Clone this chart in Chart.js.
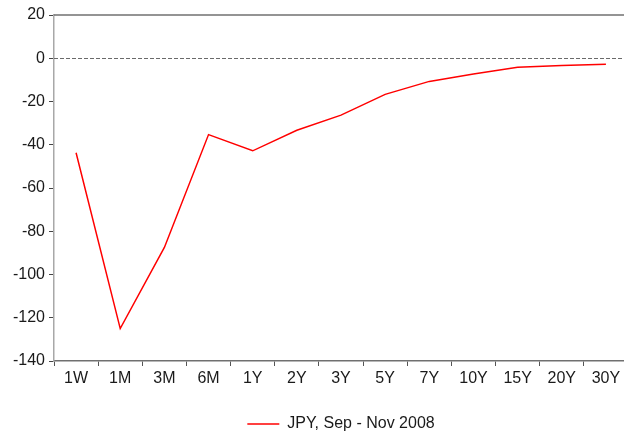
<!DOCTYPE html>
<html>
<head>
<meta charset="utf-8">
<script src="https://cdn.jsdelivr.net/npm/chart.js@4.4.1/dist/chart.umd.min.js"></script>
<style>
  html, body { margin: 0; padding: 0; background: #fff; overflow: hidden; }
  /* the original plot runs a few pixels past the right and bottom edges */
  #wrap { width: 630px; height: 442px; }
</style>
</head>
<body>
<div id="wrap"><canvas id="curve"></canvas></div>
<script>
const tenors = ['1W', '1M', '3M', '6M', '1Y', '2Y', '3Y', '5Y', '7Y', '10Y', '15Y', '20Y', '30Y'];
const jpyChange = [-43.7, -125, -87.5, -35.3, -42.8, -33.3, -26.3, -16.7, -10.7, -7.3, -4.2, -3.4, -2.8];
const yMin = -140;
const yMax = 20;
const yStep = 20;

const fontFamily = '"Liberation Sans", Arial, sans-serif';

// top frame + dashed zero line
const framePlugin = {
    id: 'frame',
    beforeDatasetsDraw(chart) {
        const { ctx, chartArea, scales } = chart;
        const y0 = Math.round(scales.y.getPixelForValue(0)) + 0.5;
        ctx.save();
        ctx.strokeStyle = '#6a6a6a';
        ctx.lineWidth = 1;
        ctx.setLineDash([4, 2]);
        ctx.beginPath();
        ctx.moveTo(chartArea.left, y0);
        ctx.lineTo(chartArea.right, y0);
        ctx.stroke();
        ctx.setLineDash([]);
        ctx.strokeStyle = '#707070';
        ctx.lineWidth = 1.5;
        ctx.beginPath();
        ctx.moveTo(chartArea.left, chartArea.top);
        ctx.lineTo(chartArea.right, chartArea.top);
        ctx.stroke();
        ctx.restore();
    }
};

new Chart(document.getElementById('curve').getContext('2d'), {
    type: 'line',
    data: {
        labels: tenors,
        datasets: [{
            label: 'JPY, Sep - Nov 2008',
            data: jpyChange,
            borderColor: '#ff0000',
            backgroundColor: '#ff0000',
            borderWidth: 1.5,
            pointRadius: 0,
            pointHoverRadius: 0,
            tension: 0,
            fill: false
        }]
    },
    options: {
        responsive: true,
        maintainAspectRatio: false,
        animation: false,
        layout: { autoPadding: false, padding: { top: 15, right: 2, bottom: 0, left: 0 } },
        plugins: {
            tooltip: { enabled: false },
            legend: {
                position: 'bottom',
                fullSize: false,
                labels: {
                    usePointStyle: true,
                    pointStyle: 'line',
                    pointStyleWidth: 32,
                    padding: 2,
                    color: '#1a1a1a',
                    font: { family: fontFamily, size: 16 }
                }
            }
        },
        scales: {
            x: {
                offset: true,
                grid: {
                    offset: true,
                    drawOnChartArea: false,
                    drawTicks: true,
                    tickLength: 5,
                    tickColor: '#555'
                },
                border: { color: '#707070', width: 1.5 },
                ticks: {
                    padding: 3,
                    color: '#1a1a1a',
                    font: { family: fontFamily, size: 16 },
                    maxRotation: 0,
                    autoSkip: false
                },
                afterFit(scale) { scale.height = 53; }
            },
            y: {
                min: yMin,
                max: yMax,
                grid: {
                    drawOnChartArea: false,
                    drawTicks: true,
                    tickLength: 5,
                    tickColor: '#444'
                },
                border: { color: '#a8a8a8', width: 1.5 },
                ticks: {
                    stepSize: yStep,
                    padding: 4,
                    color: '#1a1a1a',
                    font: { family: fontFamily, size: 16 }
                },
                afterFit(scale) { scale.width = 54; }
            }
        }
    },
    plugins: [framePlugin]
});
</script>
</body>
</html>
